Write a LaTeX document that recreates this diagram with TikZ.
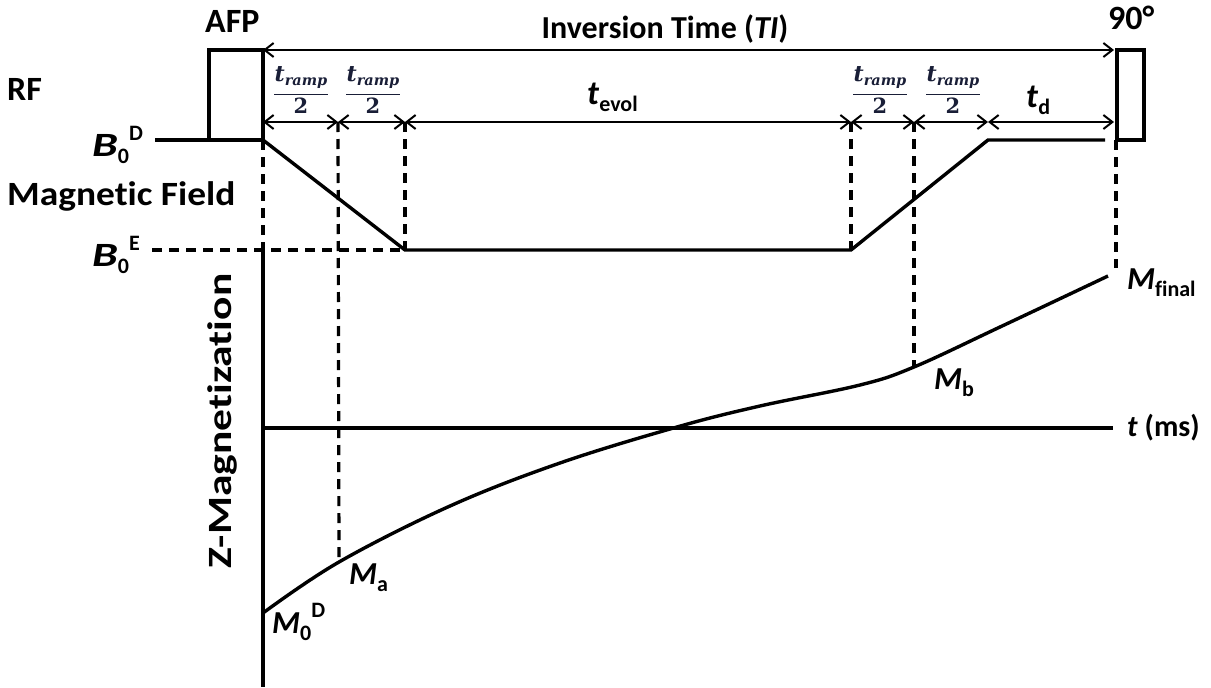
\documentclass[tikz,border=0pt]{standalone}
\usepackage{fontspec}
\setmainfont{Carlito}[Ligatures=NoCommon]
\newfontfamily\fracfont{DejaVu Serif}
\usetikzlibrary{arrows.meta}
\newcommand{\lbdn}[1]{\raisebox{-7pt}{\fontsize{22}{22}\selectfont #1}}
\newcommand{\lbup}[1]{\raisebox{16pt}{\fontsize{22}{22}\selectfont #1}}
\newcommand{\wideB}{\scalebox{1.35}[1]{\textit{B}}}
\newcommand{\tramp}{{\fracfont\bfseries
  \begin{tabular}{@{}c@{}}
  {\fontsize{22}{22}\selectfont\itshape t\raisebox{-4pt}{\fontsize{14.5}{14.5}\selectfont ramp}}\\[-2pt]
  \rule{54pt}{1.2pt}\\[-1pt]
  {\fontsize{21}{21}\selectfont 2}
  \end{tabular}}}
\definecolor{fracblue}{RGB}{25,30,55}
\begin{document}
\begin{tikzpicture}[x=1pt,y=-1pt,line join=miter,
  thickline/.style={line width=3.4pt},
  dashline/.style={line width=3.2pt,dash pattern=on 10pt off 7pt},
  dimline/.style={line width=2pt,{Straight Barb[length=9pt,width=14pt]}-{Straight Barb[length=9pt,width=14pt]}},
  pulse/.style={draw,line width=3.4pt,inner sep=0pt,outer sep=0pt},
  lbl/.style={font=\fontsize{34}{40}\selectfont\bfseries,inner sep=0pt},
  mlbl/.style={font=\fontsize{32}{38}\selectfont\bfseries,inner sep=0pt},
  frac/.style={inner sep=0pt,text=fracblue}]
\useasboundingbox (0,0) rectangle (1211,688);

% RF pulses
\node[pulse,minimum width=54pt,minimum height=90pt] (afpbox) at (236,95) {};
\node[pulse,minimum width=27pt,minimum height=90pt] (nbox) at (1130.5,95) {};

% coordinates
\coordinate (tiL) at (263,50);
\coordinate (tiR) at (1114,50);
\coordinate (a0) at (263,122);
\coordinate (a1) at (338,122);
\coordinate (a2) at (405,122);
\coordinate (a3) at (851,122);
\coordinate (a4) at (914,122);
\coordinate (a5) at (988,122);
\coordinate (a6) at (1114,122);
\coordinate (bstart) at (155,140);
\coordinate (f1) at (405,250);
\coordinate (f2) at (851,250);
\coordinate (f3) at (988,140);
\coordinate (f4) at (1105,140);
\coordinate (eleft) at (152,250);
\coordinate (ytop) at (263,250);
\coordinate (ybot) at (263,687);
\coordinate (tR) at (1113,428);
\coordinate (t0) at (263,428);
\coordinate (ma) at (339,562);
\coordinate (mb) at (914,368);
\coordinate (d1) at (1116,140);
\coordinate (d1b) at (1116,268);

% timing arrows
\draw[dimline] (tiL) -- (tiR);
\draw[dimline] (a0) -- (a1);
\draw[dimline] (a1) -- (a2);
\draw[dimline] (a2) -- (a3);
\draw[dimline] (a3) -- (a4);
\draw[dimline] (a4) -- (a5);
\draw[dimline] (a5) -- (a6);

% field
\draw[thickline] (bstart) -- (afpbox.south west);
\draw[thickline] (afpbox.south east) -- (f1) -- (f2) -- (f3) -- (f4);

% dashed guides
\draw[dashline] (afpbox.south east) -- (ytop);
\draw[dashline] (eleft) -- (f1);
\draw[dashline] (a1) -- (ma);
\draw[dashline] (a2) -- (f1);
\draw[dashline] (a3) -- (f2);
\draw[dashline] (a4) -- (mb);
\draw[dashline] (d1) -- (d1b);

% axes
\draw[thickline] (ytop) -- (ybot);
\draw[thickline] (t0) -- (tR);

% magnetization curve
\draw[thickline] plot[smooth,tension=0.6] coordinates {(263,613) (339,562) (450,506) (560,463) (677,427) (760,406) (860,385) (914,367) (1000,327) (1108,276)};

% labels
\node[lbl,anchor=base west] (afp) at (205,32) {AFP};
\node[lbl,anchor=base west] (ninety) at (1108,30) {90°};
\node[lbl,anchor=base west] (rf) at (7,100) {RF};
\node[lbl,font=\fontsize{32}{38}\selectfont\bfseries,anchor=base] (ti) at (665,38) {Inversion Time (\textit{TI})};
\node[lbl,anchor=base west] (mfield) at (7,205) {\scalebox{1.1}[1]{Magnetic Field}};
\node[lbl,anchor=base west] (b0d) at (92,156) {\wideB\lbdn{0}\lbup{D}};
\node[lbl,anchor=base west] (b0e) at (92,266) {\wideB\lbdn{0}\lbup{E}};
\node[lbl,rotate=90,anchor=base] (zlab) at (231,421) {\scalebox{1.28}[1]{Z-Magnetization}};
\node[lbl,font=\fontsize{30}{36}\selectfont\bfseries,anchor=base west] (tms) at (1127,436) {\textit{t} (ms)};
\node[mlbl,anchor=base west] (lm0) at (272,633) {\textit{M}\lbdn{0}\lbup{D}};
\node[mlbl,anchor=base west] (lma) at (349,584) {\textit{M}\lbdn{a}};
\node[mlbl,anchor=base west] (lmb) at (934,389) {\textit{M}\lbdn{b}};
\node[mlbl,anchor=base west] (lmf) at (1127,289) {\textit{M}\lbdn{final}};
\node[lbl,anchor=base west] (tevol) at (587,104) {\textit{t}\lbdn{evol}};
\node[lbl,anchor=base west] (td) at (1026,107) {\textit{t}\lbdn{d}};

\node[frac] (fr1) at (301,92) {\tramp};
\node[frac] (fr2) at (373,92) {\tramp};
\node[frac] (fr3) at (880,92) {\tramp};
\node[frac] (fr4) at (953,92) {\tramp};
\end{tikzpicture}
\end{document}
